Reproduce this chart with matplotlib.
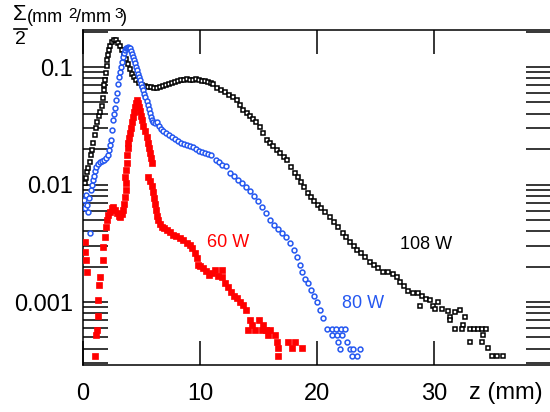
import matplotlib
matplotlib.use("Agg")
import matplotlib.pyplot as plt
from matplotlib.ticker import FixedLocator, LogLocator, NullFormatter, FixedFormatter
from matplotlib.lines import Line2D

plt.rcParams['font.family'] = ['Liberation Sans', 'DejaVu Sans']

# ---------------- data (z in mm, Sigma/2 in mm^2/mm^3) ----------------
z_108 = [0.17, 0.26, 0.34, 0.43, 0.60, 0.68, 0.77, 0.85, 1.03, 1.11, 1.20, 1.37, 1.45, 1.62, 1.71,
         1.79, 1.79, 1.88, 1.97, 2.05, 2.05, 2.14, 2.22, 2.31, 2.48, 2.65, 2.82, 2.99, 3.16, 3.33,
         3.50, 3.68, 3.85, 4.02, 4.19, 4.36, 4.53, 4.79, 5.04, 5.30, 5.56, 5.81, 6.07, 6.32, 6.58,
         6.84, 7.09, 7.35, 7.61, 7.86, 8.12, 8.38, 8.63, 8.89, 9.15, 9.40, 9.66, 9.91, 10.17, 10.43,
         10.68, 10.94, 11.11,
         11.45, 11.79, 12.14, 12.48, 12.82, 13.16, 13.42, 13.68, 14.02, 14.27, 14.53, 14.79, 15.13,
         15.38, 15.73, 15.98, 16.24, 16.58, 16.84, 17.18, 17.44, 17.78, 18.12, 18.38, 18.63, 18.89,
         19.23, 19.49, 19.74, 20.09, 20.34, 20.68, 21.11, 21.45, 21.79, 22.22, 22.48, 22.82, 23.16,
         23.42, 23.76, 24.10, 24.53, 24.87, 25.21, 25.64, 26.07, 26.50, 26.84, 27.09, 27.44, 27.78,
         28.21, 28.63, 28.97, 29.32, 29.66, 28.80, 29.91, 30.34, 30.09, 30.68, 31.20, 31.79, 32.22,
         31.37, 31.37, 32.65, 32.48, 31.79, 32.39, 33.08, 33.42, 33.76, 34.10, 34.44, 34.19, 33.08,
         34.10, 34.62, 34.96, 35.38, 35.90]
s_108 = [0.0103, 0.0113, 0.0128, 0.0139, 0.0156, 0.0178, 0.0197, 0.0225, 0.0264, 0.0303, 0.0341,
         0.0383, 0.0415, 0.0466, 0.0545, 0.0637, 0.0703, 0.0775, 0.0889, 0.102, 0.115, 0.126, 0.140,
         0.151, 0.164, 0.170, 0.170, 0.160, 0.151, 0.140, 0.130, 0.117, 0.106, 0.0962, 0.0872,
         0.0823, 0.0775, 0.0731, 0.0703, 0.0690, 0.0676, 0.0676, 0.0663, 0.0663, 0.0676, 0.0690,
         0.0703, 0.0717, 0.0731, 0.0746, 0.0760, 0.0775, 0.0775, 0.0791, 0.0775, 0.0775, 0.0791,
         0.0775, 0.0760, 0.0760, 0.0746, 0.0731, 0.0717,
         0.0663, 0.0637, 0.0613, 0.0578, 0.0556, 0.0524, 0.0475, 0.0431, 0.0406, 0.0383, 0.0361,
         0.0341, 0.0309, 0.0274, 0.0239, 0.0225, 0.0213, 0.0197, 0.0186, 0.0171, 0.0162, 0.0141,
         0.0125, 0.0115, 0.0105, 0.00952, 0.00847, 0.00783, 0.00724, 0.00670, 0.00632, 0.00584,
         0.00529, 0.00480, 0.00435, 0.00387, 0.00358, 0.00324, 0.00300, 0.00277, 0.00261, 0.00241,
         0.00219, 0.00207, 0.00195, 0.00180, 0.00180, 0.00173, 0.00164, 0.00148, 0.00137, 0.00124,
         0.00119, 0.00119, 0.00113, 0.00106, 0.00104, 0.000925, 0.000925, 0.00100, 0.000872,
         0.000872, 0.000839, 0.000822, 0.000855, 0.000746, 0.000703, 0.000746, 0.000637, 0.000589,
         0.000589, 0.000589, 0.000589, 0.000589, 0.000589, 0.000589, 0.000524, 0.000457, 0.000457,
         0.000406, 0.000347, 0.000347, 0.000347]

z_80 = [0.09, 0.17, 0.26, 0.34, 0.43, 0.51, 0.60, 0.68, 0.77, 0.85, 0.94, 1.03, 1.11, 1.28, 1.45,
        1.62, 1.79, 1.97, 2.14, 2.22, 2.31, 2.39, 2.48, 2.56, 2.65, 2.74, 2.82, 2.91, 2.99, 3.08,
        3.16, 3.25, 3.33, 3.42, 3.50, 3.59, 3.68, 3.76, 3.85, 3.93, 4.02, 4.10, 4.19, 4.27, 4.36,
        4.44, 4.53, 4.62, 4.70, 4.79, 4.87, 4.96, 5.04, 5.13, 5.21, 5.30, 5.47, 5.56, 5.64, 5.73,
        5.81, 5.90, 5.98, 6.15, 6.32, 6.50, 6.67, 6.84, 7.09, 7.35, 7.61, 7.86, 8.12, 8.38, 8.63,
        8.89, 9.15, 9.40, 9.66, 9.91, 10.17, 10.43, 10.68, 10.94, 11.37, 11.62, 11.88, 12.22, 12.56,
        12.91, 13.25, 13.59, 13.93, 14.27, 14.62, 14.96, 15.30, 15.64, 15.98, 16.32, 16.67, 17.01,
        17.35, 17.69, 18.03, 18.29, 18.55, 18.72, 18.97, 19.23, 19.49, 19.74, 20.00, 20.26, 20.51,
        20.85, 21.28, 21.62, 22.05, 22.39, 21.28, 21.71, 22.14, 21.79, 22.56, 21.97, 22.82, 23.08,
        23.68, 22.99, 23.42]
s_80 = [0.00738, 0.00632, 0.00814, 0.00670, 0.00584, 0.00768, 0.00387, 0.00898, 0.0099, 0.0109,
        0.0118, 0.0130, 0.0141, 0.0150, 0.0156, 0.0159, 0.0162, 0.0168, 0.0178, 0.0197, 0.0217,
        0.0239, 0.0291, 0.0354, 0.0397, 0.0448, 0.0524, 0.0601, 0.0717, 0.0823, 0.0907, 0.100,
        0.110, 0.121, 0.132, 0.140, 0.145, 0.145, 0.148, 0.145, 0.145, 0.137, 0.130, 0.121, 0.115,
        0.108, 0.100, 0.0943, 0.0872, 0.0823, 0.0775, 0.0717, 0.0676, 0.0637, 0.0589, 0.0556,
        0.0514, 0.0475, 0.0440, 0.0406, 0.0375, 0.0354, 0.0341, 0.0334, 0.0341, 0.0315, 0.0297,
        0.0285, 0.0274, 0.0264, 0.0254, 0.0244, 0.0234, 0.0225, 0.0221, 0.0217, 0.0213, 0.0209,
        0.0201, 0.0193, 0.0190, 0.0186, 0.0182, 0.0178, 0.0162, 0.0156, 0.0147, 0.0144, 0.0125,
        0.0118, 0.0109, 0.0103, 0.00952, 0.00881, 0.00798, 0.00724, 0.00645, 0.00572, 0.00499,
        0.00452, 0.00418, 0.00387, 0.00358, 0.00318, 0.00277, 0.00241, 0.00207, 0.00180, 0.00157,
        0.00145, 0.00126, 0.00113, 0.00100, 0.000855, 0.000731, 0.000589, 0.000589, 0.000589,
        0.000589, 0.000589, 0.000524, 0.000524, 0.000524, 0.000457, 0.000457, 0.000398, 0.000398,
        0.000398, 0.000398, 0.000347, 0.000347]

z_60 = [0.17, 0.17, 0.26, 0.34, 1.03, 1.11, 1.20, 1.28, 1.28, 1.37, 1.45, 1.71, 1.71, 1.88, 1.97,
        2.05, 2.14, 2.31, 2.48, 2.56, 2.74, 2.91, 3.08, 3.16, 3.33, 3.42, 3.50, 3.59, 3.68, 3.68,
        3.59, 3.68, 3.76, 3.76, 3.85, 3.85, 3.93, 4.02, 4.10, 4.19, 4.27, 4.36, 4.44, 4.53, 4.62,
        4.70, 4.79, 4.87, 4.96, 5.04, 5.13, 5.30, 5.47, 5.56, 5.64, 5.73, 5.81, 5.90, 5.56, 5.73,
        5.90, 5.98, 6.07, 6.15, 6.24, 6.32, 6.41, 6.58, 6.75, 6.92, 7.18, 7.44, 7.69, 7.95, 8.29,
        8.55, 8.89, 9.15, 9.32, 9.57, 9.74, 9.83, 10.00, 10.26, 10.51, 10.77, 11.03, 11.28, 11.54,
        11.88, 11.88, 12.14, 12.39, 12.65, 12.91, 13.16, 13.42, 13.68, 13.93, 14.27, 14.44, 14.10,
        14.70, 15.04, 15.38, 15.30, 15.64, 15.98, 15.81, 16.41, 16.58, 17.52, 18.12, 16.67, 17.86,
        18.72, 16.67]
s_60 = [0.00324, 0.00266, 0.00228, 0.00180, 0.000347, 0.000524, 0.000578, 0.000760, 0.00104,
        0.00140, 0.00164, 0.00228, 0.00294, 0.00358, 0.00435, 0.00499, 0.00550, 0.00584, 0.00632,
        0.00645, 0.00607, 0.00572, 0.00540, 0.00529, 0.00561, 0.00607, 0.00683, 0.00783, 0.00898,
        0.0103, 0.0115, 0.0133, 0.0153, 0.0178, 0.0205, 0.0225, 0.0249, 0.0274, 0.0303, 0.0341,
        0.0375, 0.0415, 0.0457, 0.0494, 0.0524, 0.0494, 0.0457, 0.0423, 0.0383, 0.0354, 0.0315,
        0.0285, 0.0254, 0.0225, 0.0205, 0.0186, 0.0168, 0.0153, 0.0115, 0.0107, 0.00971, 0.00864,
        0.00768, 0.00683, 0.00607, 0.00540, 0.00499, 0.00461, 0.00435, 0.00426, 0.00410, 0.00394,
        0.00372, 0.00365, 0.00351, 0.00337, 0.00318, 0.00306, 0.00288, 0.00261, 0.00237, 0.00207,
        0.00203, 0.00195, 0.00183, 0.00170, 0.00177, 0.00187, 0.00167, 0.00187, 0.00164, 0.00145,
        0.00134, 0.00121, 0.00113, 0.00108, 0.00100, 0.000943, 0.000855, 0.000703, 0.000637,
        0.000578, 0.000578, 0.000703, 0.000637, 0.000578, 0.000578, 0.000578, 0.000524, 0.000524,
        0.000457, 0.000457, 0.000457, 0.000406, 0.000406, 0.000406, 0.000347]

x_ticks = [0, 10, 20, 30, 40]
x_tick_labels = ["0", "10", "20", "30", ""]
y_ticks = [1e-3, 1e-2, 1e-1]
y_tick_labels = ["0.001", "0.01", "0.1"]
series_labels = ["60 W", "80 W", "108 W"]

# ---------------- figure ----------------
W, H = 550, 412
fig = plt.figure(figsize=(W / 100, H / 100), dpi=100)
ax = fig.add_axes([83 / W, 1 - 365 / H, 468 / W, 335 / H])
ax.set_xscale('linear')
ax.set_yscale('log')
ax.set_xlim(0, 40)
ax.set_ylim(2.91e-4, 0.2065)

BLUE = '#2457f0'
ax.plot(z_108, s_108, linestyle='none', marker='s', markersize=3.2, markerfacecolor='white',
        markeredgecolor='black', markeredgewidth=1.1, zorder=3)
ax.plot(z_80, s_80, linestyle='none', marker='o', markersize=3.5, markerfacecolor='white',
        markeredgecolor=BLUE, markeredgewidth=1.1, zorder=4)
ax.plot(z_60, s_60, linestyle='none', marker='s', markersize=3.7, markerfacecolor='red',
        markeredgecolor='red', markeredgewidth=0.5, zorder=5)

ax.text(12.4, 0.00318, series_labels[0], color='red', fontsize=13, ha='center', va='center')
ax.text(23.9, 0.00098, series_labels[1], color=BLUE, fontsize=13, ha='center', va='center')
ax.text(29.3, 0.00306, series_labels[2], color='black', fontsize=13, ha='center', va='center')

ax.xaxis.set_major_locator(FixedLocator(x_ticks))
ax.xaxis.set_major_formatter(FixedFormatter(x_tick_labels))
ax.yaxis.set_major_locator(FixedLocator(y_ticks))
ax.yaxis.set_major_formatter(FixedFormatter(y_tick_labels))
ax.yaxis.set_minor_locator(LogLocator(base=10, subs=[2, 3, 4, 5, 6, 7, 8, 9]))
ax.yaxis.set_minor_formatter(NullFormatter())

ax.tick_params(axis='x', which='major', direction='in', length=17, width=1.1, top=True,
               bottom=True, labelsize=17, pad=13)
ax.tick_params(axis='y', which='both', direction='in', length=18, width=1.1, left=True,
               right=True, labelsize=17, pad=7)
for sp in ax.spines.values():
    sp.set_linewidth(1.1)

fig.text(506 / W, 1 - 393 / H, "z (mm)", fontsize=17, ha='center', va='center')

# y-axis label: Sigma over 2, then units
fig.text(20 / W, 1 - 15 / H, "Σ", fontsize=16, ha='center', va='center')
fig.add_artist(Line2D([14 / W, 27 / W], [1 - 28.5 / H, 1 - 28.5 / H], color='black', linewidth=1.2))
fig.text(20 / W, 1 - 40 / H, "2", fontsize=14, ha='center', va='center')
fig.text(27 / W, 1 - 17 / H, "(mm", fontsize=13, ha='left', va='center')
fig.text(68 / W, 1 - 14 / H, "2", fontsize=11, ha='left', va='center')
fig.text(76 / W, 1 - 17 / H, "/mm", fontsize=13, ha='left', va='center')
fig.text(114 / W, 1 - 14 / H, "3", fontsize=11, ha='left', va='center')
fig.text(121 / W, 1 - 17 / H, ")", fontsize=13, ha='left', va='center')

fig.savefig("out.png", dpi=100)
